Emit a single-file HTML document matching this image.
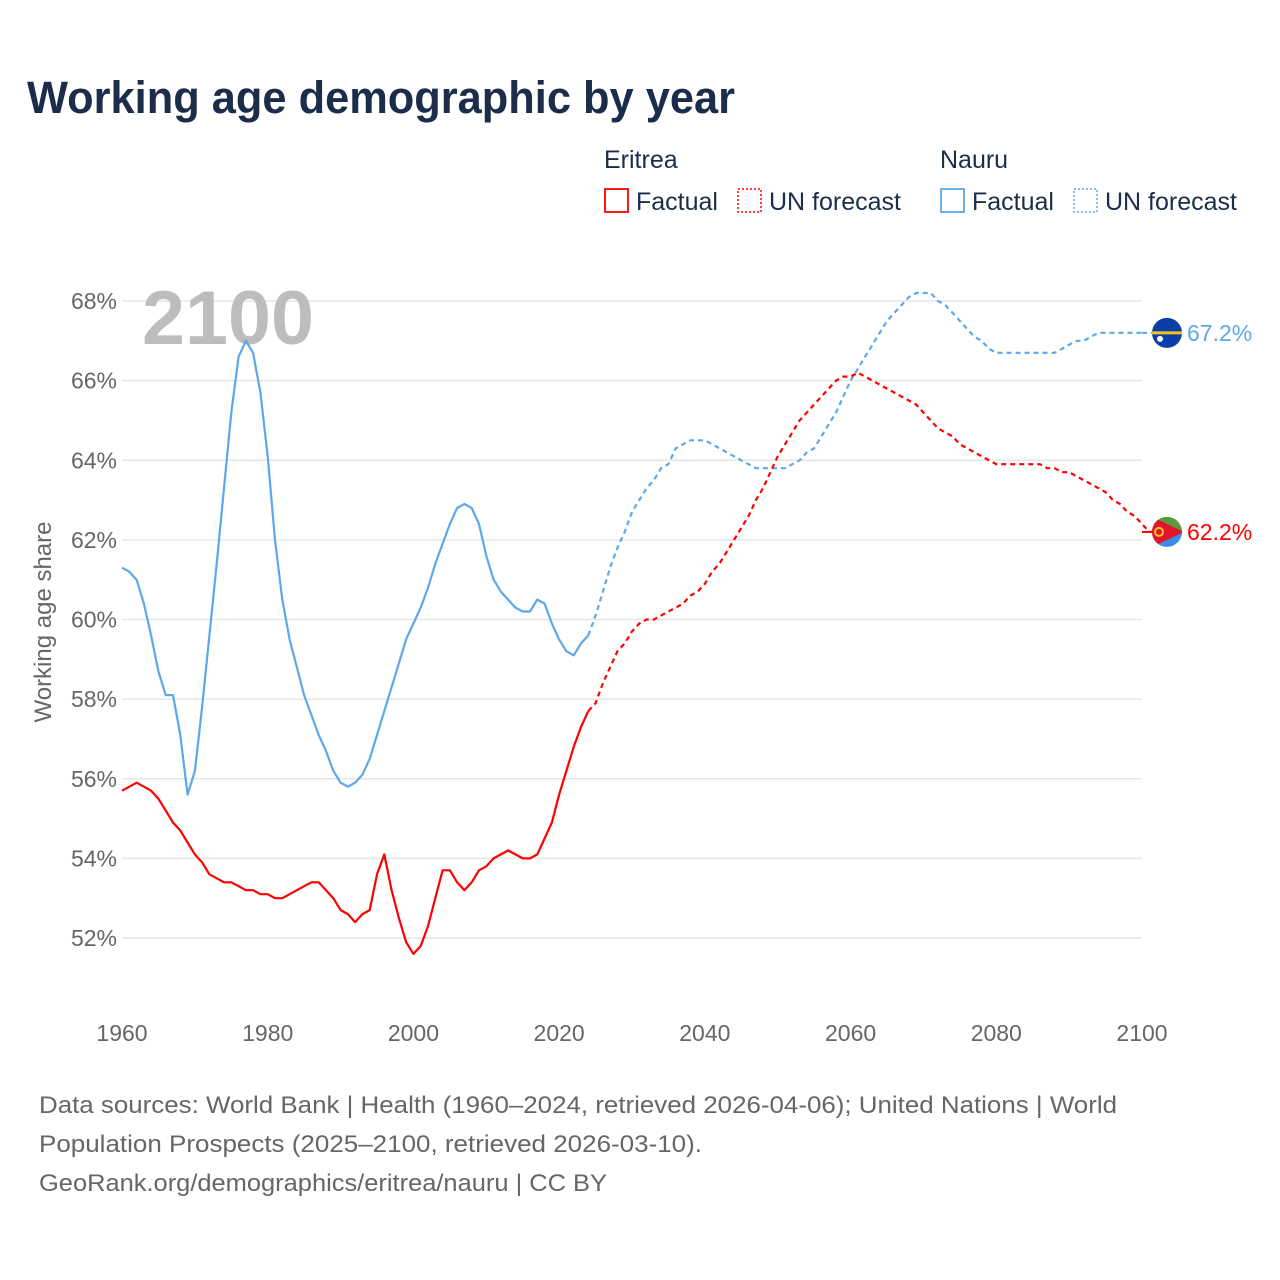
<!DOCTYPE html>
<html><head><meta charset="utf-8"><style>
body{margin:0;background:#fff;font-family:"Liberation Sans",sans-serif;}
#wrap{position:relative;width:1280px;height:1280px;overflow:hidden;}
</style></head><body>
<div id="wrap">
<svg id="chart" width="1280" height="1280"></svg>
</div>
<script>
const years=[];for(let y=1960;y<=2100;y++)years.push(y);
const nauruFactual=[61.3,61.2,61.0,60.4,59.6,58.7,58.1,58.1,57.1,55.6,56.2,57.8,59.6,61.4,63.3,65.2,66.6,67.0,66.7,65.7,64.1,62.0,60.5,59.5,58.8,58.1,57.6,57.1,56.7,56.2,55.9,55.8,55.9,56.1,56.5,57.1,57.7,58.3,58.9,59.5,59.9,60.3,60.8,61.4,61.9,62.4,62.8,62.9,62.8,62.4,61.6,61.0,60.7,60.5,60.3,60.2,60.2,60.5,60.4,59.9,59.5,59.2,59.1,59.4,59.6];
const nauruForecast=[59.6,60.1,60.7,61.3,61.8,62.2,62.7,63.0,63.3,63.5,63.8,63.9,64.3,64.4,64.5,64.5,64.5,64.4,64.3,64.2,64.1,64.0,63.9,63.8,63.8,63.8,63.8,63.8,63.9,64.0,64.2,64.3,64.6,64.9,65.2,65.6,66.0,66.3,66.6,66.9,67.2,67.5,67.7,67.9,68.1,68.2,68.2,68.2,68.0,67.9,67.7,67.5,67.3,67.1,67.0,66.8,66.7,66.7,66.7,66.7,66.7,66.7,66.7,66.7,66.7,66.8,66.9,67.0,67.0,67.1,67.2,67.2,67.2,67.2,67.2,67.2,67.2];
const eritreaFactual=[55.7,55.8,55.9,55.8,55.7,55.5,55.2,54.9,54.7,54.4,54.1,53.9,53.6,53.5,53.4,53.4,53.3,53.2,53.2,53.1,53.1,53.0,53.0,53.1,53.2,53.3,53.4,53.4,53.2,53.0,52.7,52.6,52.4,52.6,52.7,53.6,54.1,53.2,52.5,51.9,51.6,51.8,52.3,53.0,53.7,53.7,53.4,53.2,53.4,53.7,53.8,54.0,54.1,54.2,54.1,54.0,54.0,54.1,54.5,54.9,55.6,56.2,56.8,57.3,57.7];
const eritreaForecast=[57.7,57.9,58.4,58.8,59.2,59.4,59.7,59.9,60.0,60.0,60.1,60.2,60.3,60.4,60.6,60.7,60.9,61.2,61.4,61.7,62.0,62.3,62.6,63.0,63.3,63.7,64.1,64.4,64.7,65.0,65.2,65.4,65.6,65.8,66.0,66.1,66.1,66.2,66.1,66.0,65.9,65.8,65.7,65.6,65.5,65.4,65.2,65.0,64.8,64.7,64.6,64.4,64.3,64.2,64.1,64.0,63.9,63.9,63.9,63.9,63.9,63.9,63.9,63.8,63.8,63.7,63.7,63.6,63.5,63.4,63.3,63.2,63.0,62.9,62.7,62.6,62.4,62.2,62.2];
const yTicks=[52,54,56,58,60,62,64,66,68];
const xTicks=[1960,1980,2000,2020,2040,2060,2080,2100];

const NS="http://www.w3.org/2000/svg";
const svg=document.getElementById('chart');
const X=y=>122+(y-1960)*1020/140;
const Y=v=>301+(68-v)*637/16;
function el(tag,attrs,parent){const e=document.createElementNS(NS,tag);for(const k in attrs)e.setAttribute(k,attrs[k]);(parent||svg).appendChild(e);return e;}
function txt(s,attrs){const t=el('text',attrs);t.textContent=s;return t;}
const F='"Liberation Sans",sans-serif';

let t=txt('Working age demographic by year',{x:27,y:113,'font-size':45,'font-weight':'bold',fill:'#1b2d4a','font-family':F,textLength:708,lengthAdjust:'spacingAndGlyphs'});


function legendBox(x,y,color,dash,label,name){
  const g=el('g',{});
  el('rect',{x:x,y:y,width:23,height:23,fill:'none',stroke:color,'stroke-width':dash?1.5:1.8,'stroke-dasharray':dash?'2,2':''},g);
  const tt=el('text',{x:x+31,y:y+21,'font-size':25,fill:'#1b2d4a','font-family':F},g);tt.textContent=label;
}
t=txt('Eritrea',{x:604,y:168,'font-size':25,fill:'#1b2d4a','font-family':F});
t=txt('Nauru',{x:940,y:168,'font-size':25,fill:'#1b2d4a','font-family':F});
legendBox(605,189,'#ff0000',false,'Factual','legend-eritrea-factual');
legendBox(738,189,'#ff0000',true,'UN forecast','legend-eritrea-forecast');
legendBox(941,189,'#5da8ea',false,'Factual','legend-nauru-factual');
legendBox(1074,189,'#5da8ea',true,'UN forecast','legend-nauru-forecast');

yTicks.forEach(v=>{
  const l=el('line',{x1:122,x2:1142,y1:Y(v),y2:Y(v),stroke:'#e6e6e6','stroke-width':1.5});
  
  const tt=txt(v+'%',{x:117,y:Y(v)+8,'font-size':23,fill:'#666','text-anchor':'end','font-family':F});
  
});
xTicks.forEach(y=>{
  const tt=txt(String(y),{x:X(y),y:1041,'font-size':23,fill:'#666','text-anchor':'middle','font-family':F});
  
});
t=txt('Working age share',{x:0,y:0,'font-size':24,fill:'#666','text-anchor':'middle','font-family':F,transform:'translate(51,622) rotate(-90)'});


t=txt('2100',{x:142,y:344,'font-size':76,'font-weight':'bold',fill:'#bdbdbd','font-family':F,textLength:172,lengthAdjust:'spacingAndGlyphs'});


function series(vals,start,color,dash,name){
  const d=vals.map((v,i)=>(i?'L':'M')+X(start+i).toFixed(1)+','+Y(v).toFixed(1)).join('');
  const p=el('path',{d:d,fill:'none',stroke:color,'stroke-width':2.2,'stroke-linejoin':'round','stroke-dasharray':dash?'5,4':''});
  
}
series(nauruFactual,1960,'#5da8ea',false,'nauru-factual-line');
series(nauruForecast,2024,'#5da8ea',true,'nauru-forecast-line');
series(eritreaFactual,1960,'#ff0000',false,'eritrea-factual-line');
series(eritreaForecast,2024,'#ff0000',true,'eritrea-forecast-line');

const nEnd=nauruForecast[nauruForecast.length-1], eEnd=eritreaForecast[eritreaForecast.length-1];
let l=el('line',{x1:X(2100),x2:1152,y1:Y(nEnd),y2:Y(nEnd),stroke:'#5da8ea','stroke-width':2,'stroke-dasharray':'5,4'});

l=el('line',{x1:X(2100),x2:1152,y1:Y(eEnd),y2:Y(eEnd),stroke:'#ff0000','stroke-width':2});


const defs=el('defs',{});
const c1=el('clipPath',{id:'cn'},defs);el('circle',{cx:1167,cy:Y(nEnd),r:15},c1);
const c2=el('clipPath',{id:'ce'},defs);el('circle',{cx:1167,cy:Y(eEnd),r:15},c2);
let g=el('g',{'clip-path':'url(#cn)'});
const ny=Y(nEnd);
el('rect',{x:1150,y:ny-16,width:34,height:32,fill:'#0b3fa8'},g);
el('rect',{x:1150,y:ny-1.5,width:34,height:3,fill:'#f6c418'},g);
el('circle',{cx:1160,cy:ny+6,r:3,fill:'#fff'},g);
g=el('g',{'clip-path':'url(#ce)'});
const ey=Y(eEnd);
el('rect',{x:1150,y:ey-16,width:34,height:16,fill:'#5b9a3b'},g);
el('rect',{x:1150,y:ey,width:34,height:16,fill:'#3b8ee8'},g);
el('polygon',{points:`1150,${ey-16} 1184,${ey} 1150,${ey+16}`,fill:'#e3122d'},g);
el('circle',{cx:1159,cy:ey,r:4,fill:'none',stroke:'#f6c418','stroke-width':2},g);

t=txt(nEnd.toFixed(1)+'%',{x:1187,y:Y(nEnd)+8,'font-size':23,fill:'#5da8ea','font-family':F});

t=txt(eEnd.toFixed(1)+'%',{x:1187,y:Y(eEnd)+8,'font-size':23,fill:'#ff0000','font-family':F});


const foot=['Data sources: World Bank | Health (1960–2024, retrieved 2026-04-06); United Nations | World','Population Prospects (2025–2100, retrieved 2026-03-10).','GeoRank.org/demographics/eritrea/nauru | CC BY'];
const footW=[1078,663,568];
foot.forEach((s,i)=>{
  const tt=txt(s,{x:39,y:1113+i*39,'font-size':24,fill:'#666','font-family':F,textLength:footW[i],lengthAdjust:'spacingAndGlyphs'});
  
});
</script>
</body></html>
